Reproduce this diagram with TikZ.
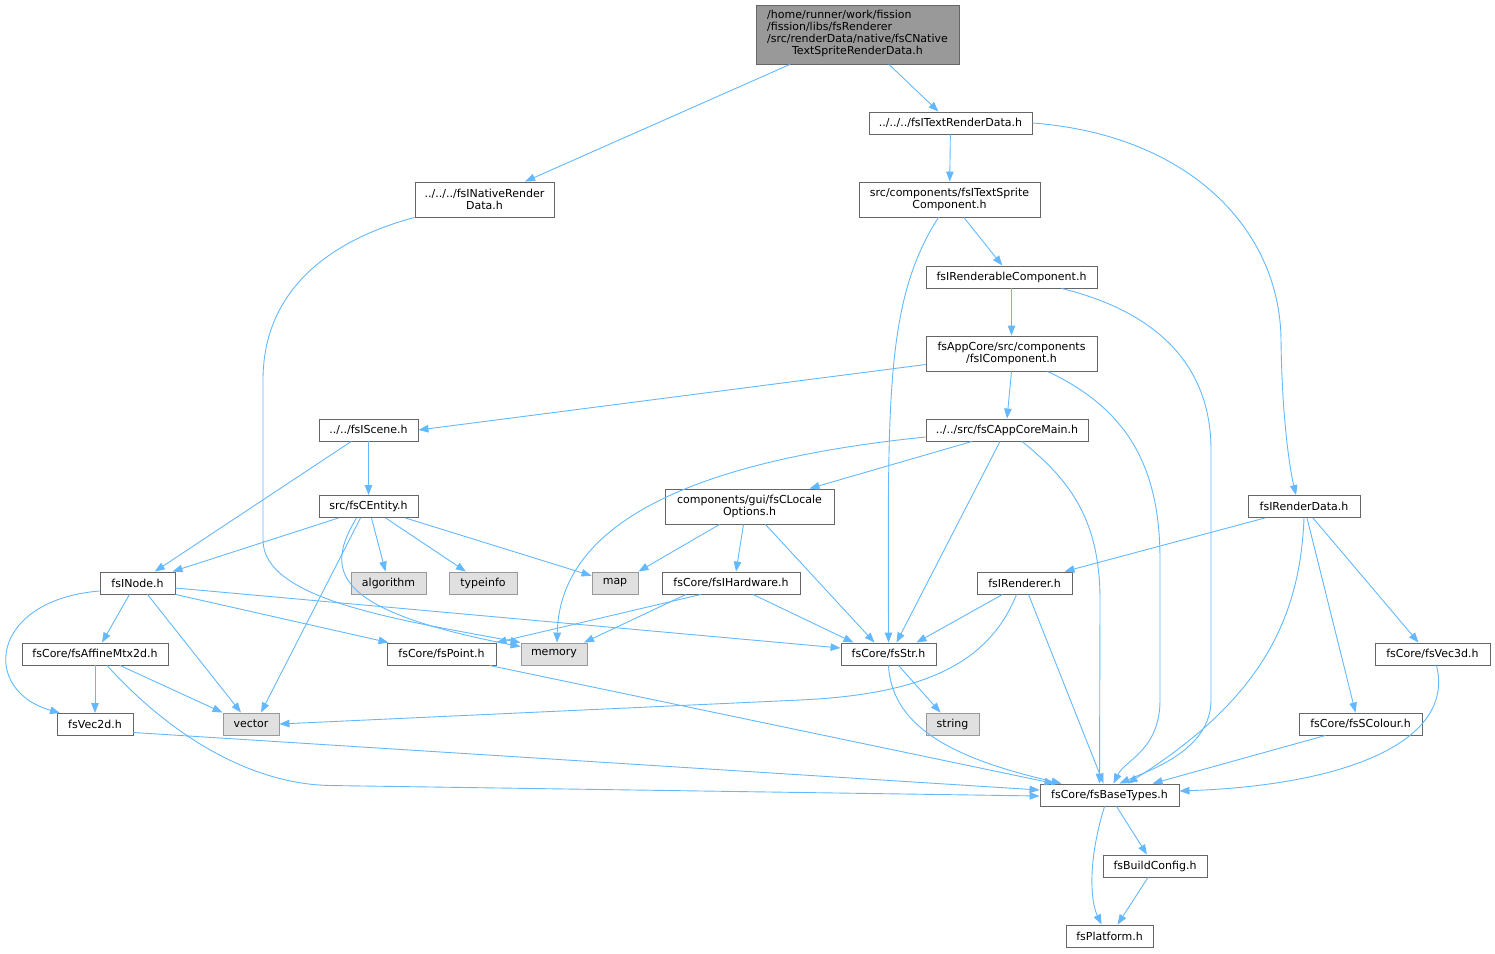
\documentclass[tikz,border=0pt]{standalone}
\usepackage{fontspec}
\setmainfont{DejaVu Sans}
\usetikzlibrary{arrows.meta}
\definecolor{depblue}{HTML}{63B8FF}
\definecolor{boxgray}{HTML}{666666}
\definecolor{sysgray}{HTML}{999999}
\definecolor{sysfill}{HTML}{E0E0E0}
\definecolor{rootfill}{HTML}{999999}
\tikzset{
	file/.style={draw=boxgray,fill=white,line width=0.9pt,minimum height=22pt,
		inner sep=0pt,align=center,font=\fontsize{11}{12}\selectfont},
	sysfile/.style={file,draw=sysgray,fill=sysfill},
	rootfile/.style={file,fill=rootfill},
	dep/.style={draw=depblue,line width=0.9pt,-{Triangle[length=10pt,width=7.5pt]}}
}
\begin{document}
\begin{tikzpicture}[x=1pt,y=-1pt]
				\useasboundingbox (0,0) rectangle (1495,953);
				\node[rootfile,minimum width=203pt,minimum height=59pt] (root) at (857.5,34.5)
					{\begin{tabular}{@{}l@{}}/home/runner/work/fission\\/fission/libs/fsRenderer\\
					/src/renderData/native/fsCNative\\\multicolumn{1}{@{}c@{}}{TextSpriteRenderData.h}\end{tabular}};
				\node[file,minimum width=163pt] (trd) at (950.5,123) {../../../fsITextRenderData.h};
				\node[file,minimum width=139pt,minimum height=35pt] (nrd) at (484.5,199.5)
					{../../../fsINativeRender\\Data.h};
				\node[file,minimum width=181pt,minimum height=35pt] (tsc) at (949.5,199.5)
					{src/components/fsITextSprite\\Component.h};
				\node[file,minimum width=171pt] (rc) at (1011.5,277) {fsIRenderableComponent.h};
				\node[file,minimum width=171pt,minimum height=35pt] (comp) at (1011.5,353.5)
					{fsAppCore/src/components\\/fsIComponent.h};
				\node[file,minimum width=99pt] (scene) at (368.5,430) {../../fsIScene.h};
				\node[file,minimum width=162pt] (cam) at (1007,430) {../../src/fsCAppCoreMain.h};
				\node[file,minimum width=99pt] (entity) at (368.5,506.5) {src/fsCEntity.h};
				\node[file,minimum width=169pt,minimum height=35pt] (locale) at (749.5,506.5)
					{components/gui/fsCLocale\\Options.h};
				\node[file,minimum width=112pt] (rd) at (1304,506.5) {fsIRenderData.h};
				\node[file,minimum width=75pt] (inode) at (137.5,583) {fsINode.h};
				\node[sysfile,minimum width=75pt] (algorithm) at (388.5,583) {algorithm};
				\node[sysfile,minimum width=68pt] (typeinfo) at (483,583) {typeinfo};
				\node[sysfile,minimum width=46pt] (map) at (615,583) {map};
				\node[file,minimum width=138pt] (hardware) at (731,583) {fsCore/fsIHardware.h};
				\node[file,minimum width=95pt] (renderer) at (1024.5,583) {fsIRenderer.h};
				\node[file,minimum width=146pt] (affine) at (95,654) {fsCore/fsAffineMtx2d.h};
				\node[file,minimum width=109pt] (point) at (441.5,654) {fsCore/fsPoint.h};
				\node[sysfile,minimum width=66pt] (memory) at (554,654) {memory};
				\node[file,minimum width=95pt] (str) at (888.5,654) {fsCore/fsStr.h};
				\node[file,minimum width=115pt] (vec3d) at (1432.5,654) {fsCore/fsVec3d.h};
				\node[file,minimum width=76pt] (vec2d) at (95,724.5) {fsVec2d.h};
				\node[sysfile,minimum width=56pt] (vector) at (251,724) {vector};
				\node[sysfile,minimum width=53pt] (string) at (952.5,724) {string};
				\node[file,minimum width=123pt] (scolour) at (1360.5,724) {fsCore/fsSColour.h};
				\node[file,minimum width=139pt] (basetypes) at (1109.5,795) {fsCore/fsBaseTypes.h};
				\node[file,minimum width=104pt] (buildconfig) at (1155,866) {fsBuildConfig.h};
				\node[file,minimum width=87pt] (platform) at (1109.5,936) {fsPlatform.h};
				\draw[dep] (root) -- (nrd);
				\draw[dep] (root) -- (trd);
				\draw[dep] (nrd.south west) .. controls (330,240) and (263,290) .. (263,380)
					-- (263,540) .. controls (263,600) and (400,620) .. (memory.north west);
				\draw[dep] (trd) -- (tsc);
				\draw[dep] (trd.east) .. controls (1190,135) and (1280,230) .. (1281,340)
					.. controls (1282,420) and (1290,470) .. ([xshift=-8]rd.north);
				\draw[dep] (tsc) -- (rc);
				\draw[dep] ([xshift=-11]tsc.south) .. controls (885,300) and (888,400) .. (str.north);
				\draw[dep] (rc) -- (comp);
				\draw[dep] ([xshift=50]rc.south) .. controls (1150,310) and (1211,360) .. (1211,450)
					-- (1211,700) .. controls (1211,750) and (1150,770) .. ([xshift=10]basetypes.north);
				\draw[dep] ([yshift=-11]comp.west) -- (scene.east);
				\draw[dep] (comp.south) -- (cam.north);
				\draw[dep] ([xshift=36]comp.south) .. controls (1130,410) and (1160,470) .. (1160,560)
					-- (1160,700) .. controls (1160,750) and (1125,760) .. ([xshift=4]basetypes.north);
				\draw[dep] (scene) -- (entity);
				\draw[dep] (scene) -- (inode);
				\draw[dep] ([yshift=-7]cam.west) .. controls (700,460) and (560,520) .. ([xshift=3]memory.north);
				\draw[dep] ([xshift=-35]cam.south) -- ([xshift=60]locale.north);
				\draw[dep] ([xshift=-7]cam.south) -- ([xshift=8]str.north);
				\draw[dep] ([xshift=15]cam.south) .. controls (1070,480) and (1100,520) .. (1100,600)
					-- ([xshift=-10]basetypes.north);
				\draw[dep] ([xshift=-30]entity.south) -- ([xshift=35]inode.north);
				\draw[dep] (entity) -- (algorithm);
				\draw[dep] (entity) -- (typeinfo);
				\draw[dep] (entity) -- (map);
				\draw[dep] ([xshift=-8]entity.south) -- ([xshift=10]vector.north);
				\draw[dep] ([xshift=-12]entity.south) .. controls (325,570) and (330,610)
					.. ([yshift=-4]memory.north west);
				\draw[dep] ([xshift=-30]locale.south) -- (map.north east);
				\draw[dep] ([xshift=-6]locale.south) -- ([xshift=5]hardware.north);
				\draw[dep] ([xshift=16]locale.south) -- ([xshift=-14]str.north);
				\draw[dep] ([xshift=-39]rd.south) -- ([xshift=40]renderer.north);
				\draw[dep] (rd.south) .. controls (1300,620) and (1260,700) .. ([xshift=18]basetypes.north);
				\draw[dep] ([xshift=3]rd.south) -- ([xshift=-5]scolour.north);
				\draw[dep] ([xshift=9]rd.south) -- ([xshift=-14]vec3d.north);
				\draw[dep] ([xshift=-8]inode.south) -- ([xshift=7]affine.north);
				\draw[dep] ([yshift=-8]inode.west) .. controls (-10,600) and (-20,690) .. ([xshift=-35]vec2d.north);
				\draw[dep] ([xshift=10]inode.south) -- ([xshift=-10]vector.north);
				\draw[dep] (inode.south east) -- ([xshift=2]point.north west);
				\draw[dep] ([yshift=-5]inode.east) -- ([yshift=6]str.west);
				\draw[dep] ([xshift=-30]hardware.south) -- (point.north east);
				\draw[dep] ([xshift=-45]hardware.south) -- ([xshift=30]memory.north);
				\draw[dep] ([xshift=22]hardware.south) -- ([xshift=-35]str.north);
				\draw[dep] ([xshift=-22]renderer.south) -- ([xshift=28]str.north);
				\draw[dep] ([xshift=-8]renderer.south) .. controls (990,660) and (930,694) .. (800,700)
					-- (vector.east);
				\draw[dep] ([xshift=4]renderer.south) -- ([xshift=-6]basetypes.north);
				\draw[dep] (affine) -- (vec2d);
				\draw[dep] ([xshift=25]affine.south) -- (vector.north west);
				\draw[dep] ([xshift=12]affine.south) .. controls (170,735) and (250,784) .. (330,785.5)
					-- ([yshift=-1]basetypes.west);
				\draw[dep] ([xshift=48]point.south) -- ([xshift=-55]basetypes.north);
				\draw[dep] ([xshift=10]str.south) -- ([xshift=-12]string.north);
				\draw[dep] (str.south) .. controls (892,730) and (960,760) .. ([xshift=-48]basetypes.north);
				\draw[dep] ([xshift=4]vec3d.south) .. controls (1455,740) and (1350,785) .. ([yshift=4]basetypes.east);
				\draw[dep] ([xshift=-35]scolour.south) -- ([xshift=43]basetypes.north);
				\draw[dep] ([yshift=-8]vec2d.east) -- ([yshift=5]basetypes.west);
				\draw[dep] ([xshift=7]basetypes.south) -- ([xshift=-8]buildconfig.north);
				\draw[dep] ([xshift=-5]basetypes.south) .. controls (1088,860) and (1090,900) .. ([xshift=-8]platform.north);
				\draw[dep] ([xshift=-7]buildconfig.south) -- ([xshift=8]platform.north);
			\end{tikzpicture}
\end{document}
